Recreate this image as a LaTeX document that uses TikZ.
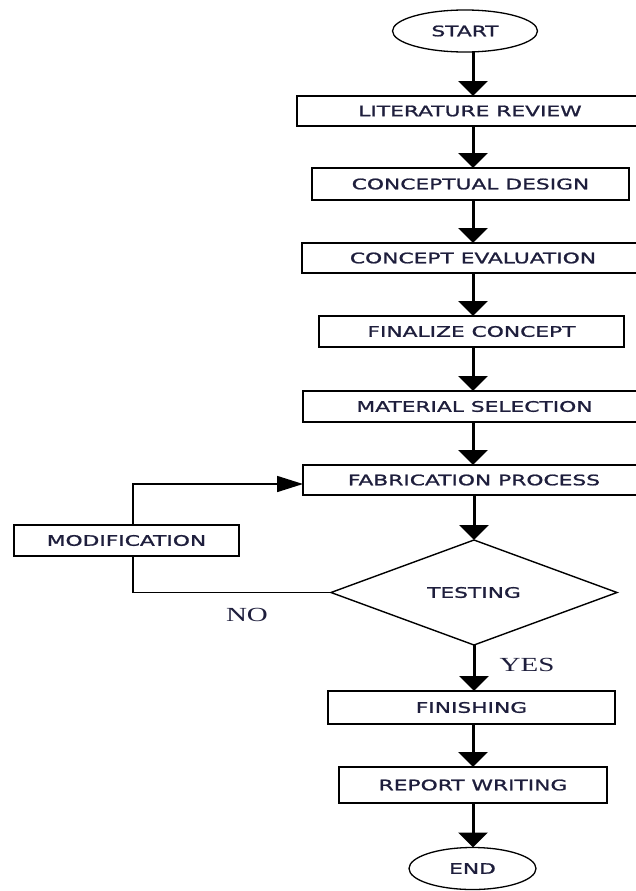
\documentclass[tikz,border=0pt]{standalone}
\usepackage{fontspec}
\usetikzlibrary{shapes.geometric,arrows.meta}
\newfontfamily\boxfont[FakeStretch=1.5,FakeBold=1.2]{DejaVu Sans}
\newfontfamily\labfont[FakeStretch=1.45]{Liberation Serif}
\definecolor{txt}{HTML}{1E1E3C}
\tikzset{
  stepbox/.style={draw, line width=1.6pt, rectangle, inner sep=0pt, outer sep=0pt,
    font=\boxfont\fontsize{14.5}{16}\selectfont, text=txt},
  termbox/.style={draw, line width=1.3pt, ellipse, inner sep=0pt, outer sep=0pt,
    font=\boxfont\fontsize{14.5}{16}\selectfont, text=txt},
  decbox/.style={draw, line width=1.4pt, diamond, inner sep=0pt, outer sep=0pt,
    font=\boxfont\fontsize{14.5}{16}\selectfont, text=txt},
  flowarrow/.style={line width=3pt, -{Triangle[width=29pt,length=15pt]}},
  looparrow/.style={line width=1.6pt, -{Triangle[width=16pt,length=26pt]}},
  loopline/.style={line width=1.6pt},
  lab/.style={font=\labfont\fontsize{20}{22}\selectfont, text=txt, inner sep=0pt}
}
\begin{document}
\begin{tikzpicture}[x=1pt,y=-1pt]
\useasboundingbox (0,0) rectangle (636,891);
\clip (0,0) rectangle (636,891);
\fill[white] (0,0) rectangle (636,891);

\node[termbox, minimum width=145pt, minimum height=42pt] (start) at (465,31) {START};
\node[stepbox, minimum width=346pt, minimum height=30pt] (lr) at (470,111) {LITERATURE REVIEW};
\node[stepbox, minimum width=317pt, minimum height=32pt] (cd) at (470.5,184) {CONCEPTUAL DESIGN};
\node[stepbox, minimum width=342pt, minimum height=30pt] (ce) at (473,258) {CONCEPT EVALUATION};
\node[stepbox, minimum width=305pt, minimum height=31pt] (fc) at (471.5,331.5) {FINALIZE CONCEPT};
\node[stepbox, minimum width=343pt, minimum height=31pt] (ms) at (474.5,406.5) {MATERIAL SELECTION};
\node[stepbox, minimum width=342pt, minimum height=30pt] (fp) at (474,480) {FABRICATION PROCESS};
\node[decbox, minimum width=286pt, minimum height=105pt] (test) at (474,592.5) {TESTING};
\node[stepbox, minimum width=287pt, minimum height=33pt] (fin) at (471.5,707.5) {FINISHING};
\node[stepbox, minimum width=268pt, minimum height=36pt] (rw) at (473,785) {REPORT WRITING};
\node[termbox, minimum width=127pt, minimum height=42pt] (end) at (472.5,868.5) {END};
\node[stepbox, minimum width=225pt, minimum height=31pt] (mod) at (126.5,540.5) {MODIFICATION};

\node[lab] (no) at (247,615) {NO};
\node[lab] (yes) at (527,664.5) {YES};

\coordinate (spine) at (473,0);
\coordinate (loopx) at (133,0);
\coordinate (looptop) at (133,484);

\draw[flowarrow] (start.south -| spine) -- (lr.north -| spine);
\draw[flowarrow] (lr.south -| spine) -- (cd.north -| spine);
\draw[flowarrow] (cd.south -| spine) -- (ce.north -| spine);
\draw[flowarrow] (ce.south -| spine) -- (fc.north -| spine);
\draw[flowarrow] (fc.south -| spine) -- (ms.north -| spine);
\draw[flowarrow] (ms.south -| spine) -- (fp.north -| spine);
\draw[flowarrow] (fp.south -| test.north) -- (test.north);
\draw[flowarrow] (test.south) -- (fin.north -| test.south);
\draw[flowarrow] (fin.south -| spine) -- (rw.north -| spine);
\draw[flowarrow] (rw.south -| spine) -- (end.north -| spine);

\draw[looparrow] (mod.north -| loopx) -- (looptop) -- (looptop -| fp.west);
\draw[loopline] (mod.south -| loopx) |- (test.west);
\end{tikzpicture}
\end{document}
